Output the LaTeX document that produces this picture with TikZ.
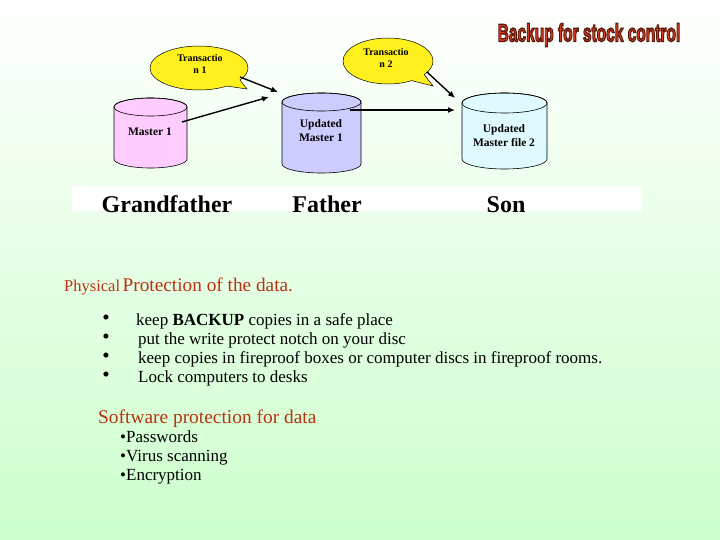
\documentclass[tikz,border=0pt]{standalone}
\usepackage{fontspec}
\setmainfont{Liberation Serif}
\newfontfamily\titlefont{Liberation Sans}
\usetikzlibrary{shapes.callouts,arrows.meta}
\definecolor{bgbot}{RGB}{204,255,204}
\definecolor{callyel}{RGB}{255,240,30}
\definecolor{pinkc}{RGB}{255,204,255}
\definecolor{lavc}{RGB}{204,204,255}
\definecolor{cyanc}{RGB}{222,250,255}
\definecolor{headred}{RGB}{185,50,18}
\definecolor{titlered}{RGB}{215,60,30}
\newcommand\drawcyl[6]{%
  \pgfmathsetmacro\cylrx{(#2-#1)/2}%
  \filldraw[fill=#6, draw=black, line width=0.6pt] (#1,#3+#5) -- (#1,#4-#5)
    arc[start angle=180,end angle=0,x radius=\cylrx,y radius=#5] -- (#2,#3+#5)
    arc[start angle=0,end angle=-180,x radius=\cylrx,y radius=#5] -- cycle;
  \draw[line width=0.6pt] (#1+\cylrx,#3+#5) ellipse[x radius=\cylrx, y radius=#5];
}
\newcommand\outlinetext[1]{\leavevmode\color{titlered}%
  \special{pdf:literal direct 2 Tr 1.4 w 0.35 0.1 0.04 RG}#1\special{pdf:literal direct 0 Tr}}
\tikzset{
  conn/.style={line width=1.4pt,-{Latex[length=7pt,width=6pt]}},
  callbox/.style={ellipse callout, draw=black, line width=0.5pt, fill=callyel, inner sep=0pt, callout pointer arc=22},
  calltext/.style={font=\fontsize{10}{12.5}\selectfont\bfseries, align=center, inner sep=0pt},
  cyltext/.style={font=\fontsize{11.5}{14}\selectfont\bfseries, align=center, inner sep=0pt},
  gen/.style={font=\fontsize{24}{28}\selectfont\bfseries, anchor=base, inner sep=0pt},
  item/.style={font=\fontsize{17}{19}\selectfont, anchor=base west, inner sep=0pt},
  bul/.style={font=\fontsize{21}{19}\selectfont, anchor=center, inner sep=0pt},
  head/.style={text=headred, anchor=base west, inner sep=0pt},
  ttl/.style={font=\titlefont\fontsize{25}{30}\selectfont\bfseries, inner sep=0pt},
}
\begin{document}
\begin{tikzpicture}[x=1pt,y=-1pt]
\useasboundingbox (0,0) rectangle (720,540);
\shade[top color=white, bottom color=bgbot] (0,0) rectangle (720,540);

% title
\node[ttl] (title) at (589,35) {\scalebox{0.62}[1]{\outlinetext{Backup for stock control}}};

% callouts
\node[callbox, minimum width=98pt, minimum height=44pt, callout absolute pointer={(247,89)}] (t1) at (199,68) {};
\node[calltext] (t1l) at (200,64) {Transactio\\n 1};
\node[callbox, minimum width=90pt, minimum height=46pt, callout absolute pointer={(433,86)}] (t2) at (388,61) {};
\node[calltext] (t2l) at (386,58) {Transactio\\n 2};

% cylinders
\drawcyl{114}{187}{98}{168}{9}{pinkc}
\drawcyl{282}{361}{93}{173}{9}{lavc}
\drawcyl{462}{547}{93}{169}{10}{cyanc}
\node[cyltext] (m1) at (150,132) {Master 1};
\node[cyltext] (um1) at (321,131) {Updated\\Master 1};
\node[cyltext] (um2) at (504,136) {Updated\\Master file 2};

% connectors
\coordinate (a1s) at (240,77); \coordinate (a1e) at (278,92);
\coordinate (a2s) at (182,122); \coordinate (a2e) at (269,97);
\coordinate (a3s) at (350,110); \coordinate (a3e) at (455,110);
\coordinate (a4s) at (427,72); \coordinate (a4e) at (455,98);
\draw[conn] (a1s) -- (a1e);
\draw[conn] (a2s) -- (a2e);
\draw[conn] (a3s) -- (a3e);
\draw[conn] (a4s) -- (a4e);

% band
\fill[white] (72,186) rectangle (642,211);
\node[gen] (g) at (167,213) {Grandfather};
\node[gen] (f) at (327,213) {Father};
\node[gen] (s) at (506,213) {Son};

% physical protection
\node[head] (ph) at (64,291) {{\fontsize{16.5}{18}\selectfont Physical} {\fontsize{19.3}{22}\selectfont Protection of the data.}};
\node[bul] (d1) at (106,320) {\textbullet};
\node[bul] (d2) at (106,339) {\textbullet};
\node[bul] (d3) at (106,358) {\textbullet};
\node[bul] (d4) at (106,377) {\textbullet};
\node[item] (b1) at (136,325) {keep \textbf{BACKUP} copies in a safe place};
\node[item] (b2) at (138,344) {put the write protect notch on your disc};
\node[item] (b3) at (138,363) {keep copies in fireproof boxes or computer discs in fireproof rooms.};
\node[item] (b4) at (138,382) {Lock computers to desks};

% software protection
\node[head, font=\fontsize{19.4}{22}\selectfont] (sp) at (98,423) {Software protection for data};
\node[item] (s1) at (120,442) {\textbullet Passwords};
\node[item] (s2) at (120,461) {\textbullet Virus scanning};
\node[item] (s3) at (120,480) {\textbullet Encryption};
\end{tikzpicture}
\end{document}
